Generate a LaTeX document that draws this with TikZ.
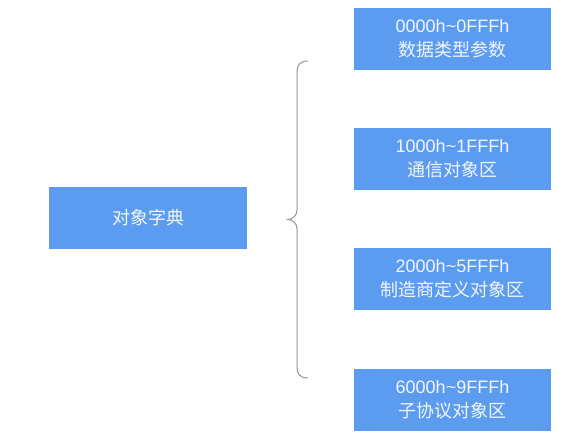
\documentclass[tikz,border=0pt]{standalone}
\usepackage{fontspec}
\setmainfont{Liberation Sans}
\newfontfamily\cjk{Noto Sans CJK SC}
\definecolor{boxblue}{RGB}{92,156,240}
\definecolor{boxtext}{RGB}{242,246,252}
\definecolor{bracegray}{RGB}{150,150,150}
\begin{document}
\begin{tikzpicture}[x=1pt,y=-1pt,
  bluebox/.style={draw=none, fill=boxblue, text=boxtext, minimum width=197pt, minimum height=62pt,
    inner sep=0pt, align=center, font=\fontsize{18}{26}\selectfont},
  bracestyle/.style={draw=bracegray, line width=1pt}]
\useasboundingbox (0,0) rectangle (582,439);
\fill[white] (0,0) rectangle (582,439);
\node[bluebox, minimum width=198pt] (dict) at (148,218) {\cjk 对象字典};
\node[bluebox] (r1) at (452.5,38.5) {\raisebox{-2pt}{0000h\textasciitilde0FFFh}\\\cjk 数据类型参数};
\node[bluebox] (r2) at (452.5,159) {\raisebox{-2pt}{1000h\textasciitilde1FFFh}\\\cjk 通信对象区};
\node[bluebox] (r3) at (452.5,279) {\raisebox{-2pt}{2000h\textasciitilde5FFFh}\\\cjk 制造商定义对象区};
\node[bluebox] (r4) at (452.5,400) {\raisebox{-2pt}{6000h\textasciitilde9FFFh}\\\cjk 子协议对象区};
\coordinate (btop) at (308,61);
\coordinate (btip) at (288,219.5);
\coordinate (bbot) at (308,378);
\draw[bracestyle] (btop) .. controls (300,61) and (297,65) .. (297,72)
  -- (297,210) .. controls (297,215) and (293,219.5) .. (btip)
  .. controls (293,219.5) and (297,224) .. (297,229)
  -- (297,367) .. controls (297,374) and (300,378) .. (bbot);
\end{tikzpicture}
\end{document}
